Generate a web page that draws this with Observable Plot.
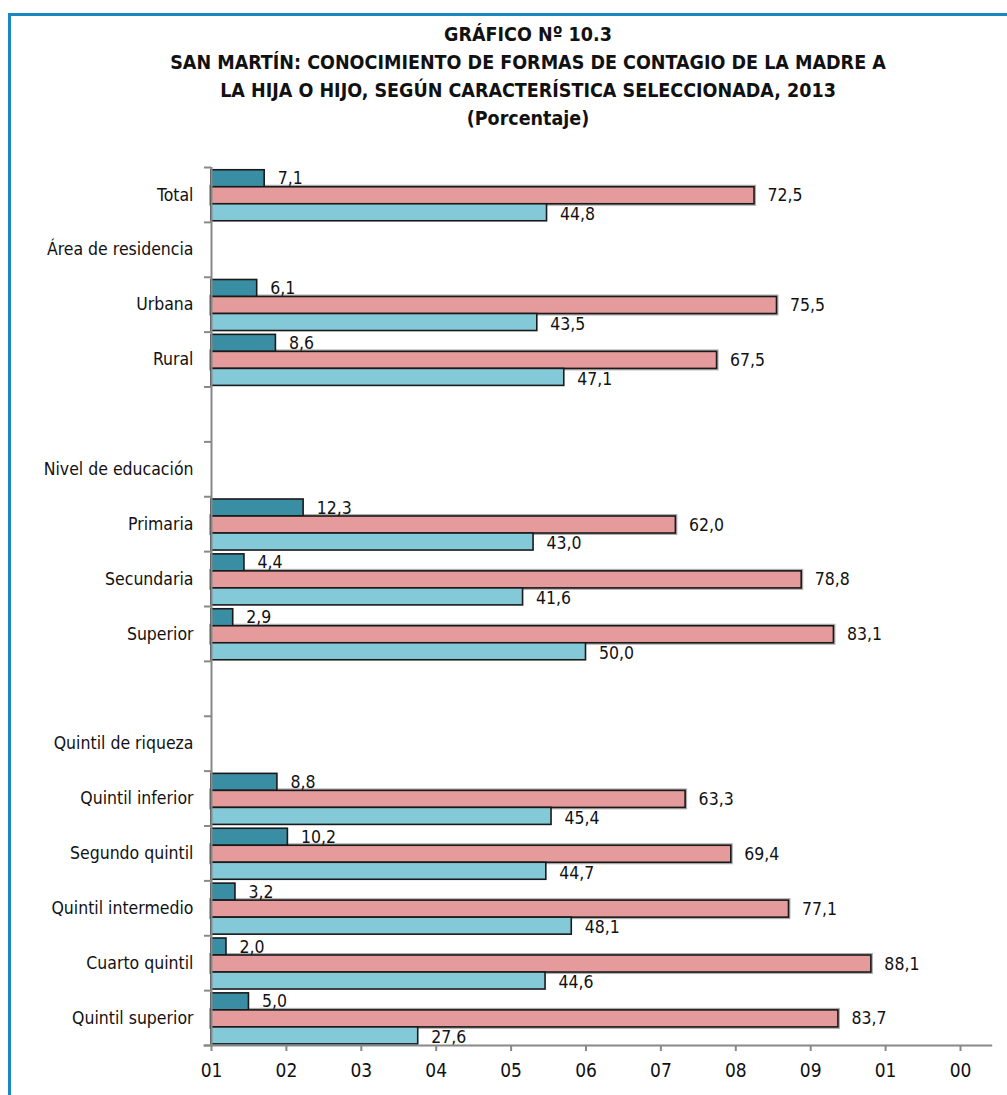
<!DOCTYPE html>
<html>
<head>
<meta charset="utf-8">
<script src="https://cdn.jsdelivr.net/npm/d3@7"></script>
<script src="https://cdn.jsdelivr.net/npm/@observablehq/plot@0.6"></script>
<style>
  html, body { margin: 0; padding: 0; background: #fff; overflow: hidden; }
  #wrap { position: relative; width: 1007px; height: 1095px; overflow: hidden;
          font-family: "Liberation Sans Narrow", "Arial Narrow", "DejaVu Sans Condensed", sans-serif; }
  #frame { position: absolute; left: 8px; top: 13px; width: 1100px; height: 1200px;
           border-left: 3px solid #1B87C0; border-top: 3px solid #1B87C0; }
  #title { position: absolute; left: 50px; width: 956px; top: 21px; text-align: center;
           font-weight: bold; font-size: 19.5px; line-height: 28px; color: #111; }
  #chart { position: absolute; left: 0; top: 130px; }
</style>
</head>
<body>
<div id="wrap">
  <div id="frame"></div>
  <div id="title">GRÁFICO Nº 10.3<br>SAN MARTÍN: CONOCIMIENTO DE FORMAS DE CONTAGIO DE LA MADRE A<br>LA HIJA O HIJO, SEGÚN CARACTERÍSTICA SELECCIONADA, 2013<br>(Porcentaje)</div>
  <div id="chart"></div>
</div>
<script>
const categories = ["Total", "Área de residencia", "Urbana", "Rural", "", "Nivel de educación",
  "Primaria", "Secundaria", "Superior", "", "Quintil de riqueza",
  "Quintil inferior", "Segundo quintil", "Quintil intermedio", "Cuarto quintil", "Quintil superior"];
const serieOscura = [7.1, null, 6.1, 8.6, null, null, 12.3, 4.4, 2.9, null, null, 8.8, 10.2, 3.2, 2.0, 5.0];
const serieRosa   = [72.5, null, 75.5, 67.5, null, null, 62.0, 78.8, 83.1, null, null, 63.3, 69.4, 77.1, 88.1, 83.7];
const serieCeleste= [44.8, null, 43.5, 47.1, null, null, 43.0, 41.6, 50.0, null, null, 45.4, 44.7, 48.1, 44.6, 27.6];
const xTicks = [0, 10, 20, 30, 40, 50, 60, 70, 80, 90, 100];
const xTickLabels = ["01", "02", "03", "04", "05", "06", "07", "08", "09", "01", "00"];

const colors = ["#3A8EA3", "#E59B9B", "#84C9D8"];
const series = [serieOscura, serieRosa, serieCeleste];
const off = 0.05, h = 0.31;
const rows = [];
series.forEach((s, k) => s.forEach((v, i) => {
  if (v != null) rows.push({i, k, v, y1: i + off + k * h, y2: i + off + (k + 1) * h, color: colors[k]});
}));
const fmt = v => v.toFixed(1).replace(".", ",");
const font = '"Liberation Sans Narrow", "Arial Narrow", "DejaVu Sans Condensed", sans-serif';

const plot = Plot.plot({
  width: 1007,
  height: 965,
  marginLeft: 211,
  marginRight: 47,
  marginTop: 37,
  marginBottom: 50,
  style: {fontFamily: font, fontSize: "17.5px", color: "#111", background: "transparent"},
  x: {domain: [0, 100]},
  y: {domain: [0, 16], reverse: true},
  marks: [
    Plot.rect(rows.filter(d => d.k === 1), {x1: 0, x2: "v", y1: "y1", y2: "y2", fill: "none", stroke: "#777", strokeWidth: 4, strokeOpacity: 0.6}),
    Plot.rect(rows, {x1: 0, x2: "v", y1: "y1", y2: "y2", fill: "color", stroke: "#1a1a1a", strokeWidth: 1.6}),
    Plot.text(rows, {x: "v", y: d => (d.y1 + d.y2) / 2 + (d.k === 2 ? 0.03 : 0), text: d => fmt(d.v), dx: 13, textAnchor: "start", fill: "#111", fontSize: 17.5}),
    Plot.ruleX([0], {y1: 0, y2: 16, stroke: "#888", strokeWidth: 2}),
    Plot.axisY({ticks: d3.range(0, 17), tickSize: 7, tickFormat: () => "", stroke: "#888", strokeWidth: 2, label: null}),
    Plot.text(categories, {x: 0, y: (d, i) => i + 0.5, text: d => d, dx: -18, textAnchor: "end", fill: "#111", fontSize: 17.5}),
    Plot.ruleY([16], {x1: -1, x2: 104.3, stroke: "#888", strokeWidth: 2}),
    Plot.axisX({ticks: xTicks, tickSize: 6, tickPadding: 12, stroke: "#888", strokeWidth: 2, label: null,
      tickFormat: (d, i) => xTickLabels[i], fontSize: 19, fill: "#111"})
  ]
});
document.getElementById("chart").appendChild(plot);
</script>
</body>
</html>
